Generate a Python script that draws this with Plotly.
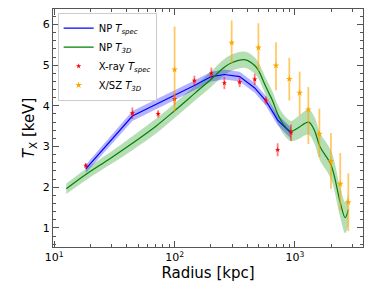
import plotly.graph_objects as go

# NP T_spec model (blue)
spec_r = [18.3, 44.6, 146, 202, 259, 347, 463, 574, 718, 927]
spec_t = [2.45, 3.75, 4.50, 4.72, 4.77, 4.72, 4.44, 4.12, 3.65, 3.33]
spec_err = [0.10, 0.12, 0.12, 0.12, 0.12, 0.12, 0.12, 0.12, 0.13, 0.14]

# NP T_3D model (green)
t3d_r = [12.6, 18.3, 29, 44.6, 70, 100, 146, 202, 259, 298, 387, 463, 497, 574,
         650, 718, 800, 927, 1050, 1297, 1450, 1611, 1990, 2378, 2612, 2772]
t3d_t = [1.96, 2.31, 2.70, 3.08, 3.50, 3.88, 4.30, 4.66, 4.95, 5.06, 5.13, 4.99, 4.87, 4.46,
         4.13, 3.80, 3.55, 3.38, 3.45, 3.60, 3.40, 3.00, 2.55, 1.62, 1.25, 1.45]
t3d_err = [0.13, 0.14, 0.15, 0.17, 0.18, 0.18, 0.18, 0.19, 0.20, 0.20, 0.20, 0.20, 0.20, 0.21,
           0.22, 0.23, 0.24, 0.25, 0.28, 0.31, 0.33, 0.34, 0.35, 0.37, 0.38, 0.38]

# X-ray T_spec data (red)
xray_r = [18.3, 44.6, 73, 100, 146, 202, 259, 347, 463, 574, 718, 927]
xray_t = [2.53, 3.82, 3.80, 4.17, 4.62, 4.80, 4.56, 4.58, 4.65, 4.13, 2.92, 3.34]
xray_e = [0.06, 0.14, 0.09, 0.14, 0.12, 0.14, 0.15, 0.12, 0.14, 0.10, 0.16, 0.20]

# X/SZ T_3D data (orange)
xsz_r = [100, 298, 497, 695, 897, 1094, 1291, 1594, 1990, 2378, 2772]
xsz_t = [4.89, 5.55, 5.43, 4.99, 4.66, 4.32, 3.91, 3.31, 2.64, 2.08, 1.63]
xsz_up = [1.06, 0.55, 0.60, 0.57, 0.52, 0.52, 0.55, 0.62, 0.69, 0.76, 0.71]
xsz_lo = [1.04, 0.50, 0.58, 0.61, 0.53, 0.56, 0.85, 0.57, 0.68, 0.65, 0.71]

fig = go.Figure()

# green band (upper edge then lower edge filled to it)
fig.add_trace(go.Scatter(x=t3d_r, y=[t + e for t, e in zip(t3d_t, t3d_err)],
                         mode="lines", line=dict(width=0, shape="spline"),
                         showlegend=False, hoverinfo="skip"))
fig.add_trace(go.Scatter(x=t3d_r, y=[t - e for t, e in zip(t3d_t, t3d_err)],
                         mode="lines", line=dict(width=0, shape="spline"), fill="tonexty",
                         fillcolor="rgba(44,160,44,0.35)", showlegend=False, hoverinfo="skip"))
# blue band
fig.add_trace(go.Scatter(x=spec_r, y=[t + e for t, e in zip(spec_t, spec_err)],
                         mode="lines", line=dict(width=0), showlegend=False, hoverinfo="skip"))
fig.add_trace(go.Scatter(x=spec_r, y=[t - e for t, e in zip(spec_t, spec_err)],
                         mode="lines", line=dict(width=0), fill="tonexty",
                         fillcolor="rgba(0,0,255,0.3)", showlegend=False, hoverinfo="skip"))

fig.add_trace(go.Scatter(x=spec_r, y=spec_t, mode="lines", line=dict(color="blue", width=1.2),
                         name="NP <i>T</i><sub><i>spec</i></sub>"))
fig.add_trace(go.Scatter(x=t3d_r, y=t3d_t, mode="lines", line=dict(color="green", width=1.2, shape="spline"),
                         name="NP <i>T</i><sub><i>3D</i></sub>"))

fig.add_trace(go.Scatter(x=xray_r, y=xray_t, mode="markers",
                         marker=dict(symbol="star", size=4, color="red"),
                         error_y=dict(type="data", array=xray_e, color="rgba(255,0,0,0.5)", thickness=1.8, width=0),
                         name="X-ray <i>T</i><sub><i>spec</i></sub>"))
fig.add_trace(go.Scatter(x=xsz_r, y=xsz_t, mode="markers",
                         marker=dict(symbol="star", size=5, color="orange"),
                         error_y=dict(type="data", symmetric=False, array=xsz_up, arrayminus=xsz_lo,
                                      color="rgba(255,165,0,0.6)", thickness=1.8, width=0),
                         name="X/SZ <i>T</i><sub><i>3D</i></sub>"))

axis_common = dict(showgrid=False, zeroline=False, showline=True, linecolor="#555", linewidth=1,
                   ticks="inside", mirror="allticks", tickcolor="#555", tickwidth=1, automargin=False,
                   tickfont=dict(family="DejaVu Sans", size=11, color="black"))

fig.update_xaxes(type="log", range=[0.99, 3.565], tickvals=[10, 100, 1000],
                 ticktext=["10<sup>1</sup>", "10<sup>2</sup>", "10<sup>3</sup>"], ticklen=6,
                 minor=dict(ticks="inside", ticklen=3, dtick="D1", tickcolor="#555"),
                 title=dict(text="Radius [kpc]", font=dict(family="DejaVu Sans", size=15, color="black"), standoff=1),
                 **axis_common)
fig.update_yaxes(range=[0.53, 6.38], dtick=1, ticklen=6,
                 minor=dict(ticks="inside", ticklen=3, dtick=0.2, tickcolor="#555"),
                 title=dict(text="<i>T</i><sub>X</sub> [keV]", font=dict(family="DejaVu Sans", size=15, color="black"), standoff=4),
                 **axis_common)

fig.update_layout(width=374, height=288, margin=dict(l=53, r=11, t=9, b=41),
                  plot_bgcolor="white", paper_bgcolor="white",
                  legend=dict(x=0.015, y=0.985, xanchor="left", yanchor="top", traceorder="normal",
                              font=dict(family="DejaVu Sans", size=10, color="black"),
                              bgcolor="rgba(255,255,255,0.8)", bordercolor="#ccc", borderwidth=1,
                              tracegroupgap=0, itemwidth=30))

fig.write_html("out.html", config={"displayModeBar": False},
               post_script="document.body.style.margin='0';document.body.style.padding='0';")
